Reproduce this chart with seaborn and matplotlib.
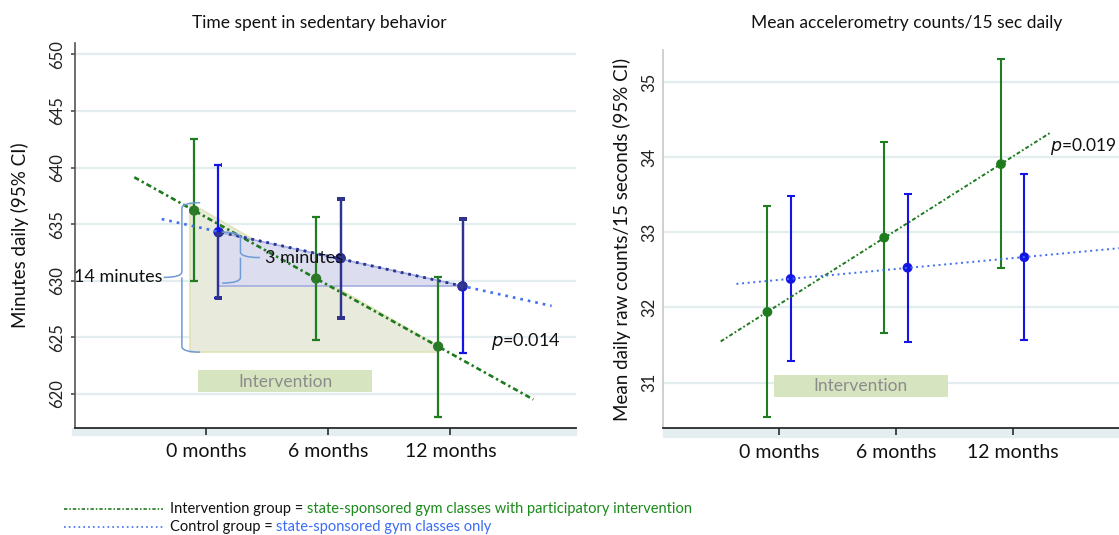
import numpy as np
import pandas as pd
import matplotlib
matplotlib.use('Agg')
import matplotlib.pyplot as plt
import seaborn as sns
from matplotlib.patches import Polygon, Rectangle, PathPatch
from matplotlib.path import Path
from matplotlib.lines import Line2D

# ---------------- data ----------------
months = ['0 months', '6 months', '12 months']
groups = ['Intervention', 'Control']

sed_int_mean = [636.2, 630.2, 624.2]
sed_int_low = [630.0, 624.8, 618.0]
sed_int_high = [642.5, 635.6, 630.3]
sed_ctl_mean = [634.3, 632.0, 629.5]
sed_ctl_low = [628.5, 626.7, 623.6]
sed_ctl_high = [640.2, 637.2, 635.5]

acc_int_mean = [31.94, 32.93, 33.91]
acc_int_low = [30.54, 31.66, 32.52]
acc_int_high = [33.35, 34.20, 35.31]
acc_ctl_mean = [32.38, 32.53, 32.67]
acc_ctl_low = [31.28, 31.54, 31.57]
acc_ctl_high = [33.48, 33.51, 33.78]

sed_yticks = [620, 625, 630, 635, 640, 645, 650]
acc_yticks = [31, 32, 33, 34, 35]
sed_p = '0.014'
acc_p = '0.019'
sed_int_diff_label = '14 minutes'
sed_ctl_diff_label = '3 minutes'
titles = ['Time spent in sedentary behavior', 'Mean accelerometry counts/15 sec daily']
ylabels = ['Minutes daily (95% CI)', 'Mean daily raw counts/15 seconds (95% CI)']

# ---------------- style ----------------
sns.set_theme(style='white')
plt.rcParams['font.family'] = ['Lato', 'DejaVu Sans']

W, H = 1119, 535
fig = plt.figure(figsize=(W / 100, H / 100), dpi=100)

GREEN = '#1f7d1f'
GREEN_MK = '#2f7a2a'
BLUE = '#1414e6'
NAVY = '#30338c'
GREEN_LINE = '#1e7a1e'
BLUE_LINE = '#3f6ff0'
GRID = '#e3edf0'
OFF = 0.1


def fx(px):
    return px / W


def fy(py):
    return 1 - py / H


def build(im, il, ih, cm, cl, ch):
    rows = []
    for g, m, lo, hi, off in [('Intervention', im, il, ih, -OFF), ('Control', cm, cl, ch, OFF)]:
        for i in range(len(months)):
            rows.append(dict(group=g, month=months[i], x=i + off, mean=m[i], low=lo[i], high=hi[i]))
    return pd.DataFrame(rows)


sed = build(sed_int_mean, sed_int_low, sed_int_high, sed_ctl_mean, sed_ctl_low, sed_ctl_high)
acc = build(acc_int_mean, acc_int_low, acc_int_high, acc_ctl_mean, acc_ctl_low, acc_ctl_high)


def make_axes(l, r, t, b):
    return fig.add_axes([fx(l), fy(b), fx(r - l), (b - t) / H])


axL = make_axes(75, 576, 43, 428)
axR = make_axes(663, 1150, 50, 428.3)


def style_axes(ax, yticks, ylim, xlim, spine_col, ytick_len):
    ax.set_xlim(*xlim)
    ax.set_ylim(*ylim)
    ax.set_yticks(yticks)
    ax.set_xticks(range(len(months)), months)
    ax.yaxis.grid(True, color=GRID, lw=1.6)
    ax.xaxis.grid(False)
    ax.set_axisbelow(True)
    for s in ['top', 'right']:
        ax.spines[s].set_visible(False)
    ax.spines['left'].set_color(spine_col)
    ax.spines['left'].set_linewidth(1.2)
    ax.spines['bottom'].set_color('#2a2a2a')
    ax.spines['bottom'].set_linewidth(1.3)
    ax.tick_params(axis='y', labelrotation=90, labelsize=12, length=ytick_len,
                   color='#555555', pad=4, labelcolor='#222222', left=ytick_len > 0)
    for lab in ax.get_yticklabels():
        lab.set_va('center')
    ax.tick_params(axis='x', labelsize=14, length=5, color='#333333', pad=6,
                   labelcolor='#111111', bottom=True)
    ax.set_xlabel('')


style_axes(axL, sed_yticks, (617.0, 651.0), (-1.076, 3.03), '#555555', 3)
style_axes(axR, acc_yticks, (30.39, 35.43), (-0.994, 3.176), '#c8c8c8', 0)

# bottom bands below the x axes
fig.add_artist(Rectangle((fx(72), fy(435)), fx(576 - 72), 7 / H, transform=fig.transFigure,
                         color='#e4eef0', zorder=0))
fig.add_artist(Rectangle((fx(663), fy(437)), fx(W - 663), 9 / H, transform=fig.transFigure,
                         color='#e4eef0', zorder=0))


def draw_data(ax, df, cols, mk_size, elw, cap, zbase=3):
    for g in groups:
        sub = df[df.group == g]
        ax.errorbar(sub['x'], sub['mean'],
                    yerr=[sub['mean'] - sub['low'], sub['high'] - sub['mean']],
                    fmt='none', ecolor=cols[g][0], elinewidth=elw, capsize=cap,
                    capthick=elw, zorder=zbase)
    sns.scatterplot(data=df, x='x', y='mean', hue='group', palette={g: cols[g][1] for g in groups},
                    s=mk_size, edgecolor='none', legend=False, ax=ax, zorder=zbase + 1)
    ax.set_xlabel('')
    ax.set_ylabel('')


def trend(ax, df, g, x0, x1, color, lw, ls, clip=None):
    sub = df[df.group == g]
    coef = np.polyfit(sub['x'], sub['mean'], 1)
    xs = np.array([x0, x1])
    before = set(ax.lines)
    sns.lineplot(x=xs, y=np.polyval(coef, xs), ax=ax, color=color, lw=lw, linestyle=ls, zorder=5)
    new = [l for l in ax.lines if l not in before]
    for l in new:
        l.set_dash_capstyle('butt')
        if clip is not None:
            l.set_clip_path(clip)
    ax.set_xlabel('')
    ax.set_ylabel('')


DASHDOT = (0, (2.0, 1.2, 0.9, 1.2))
DOT = (0, (1.0, 1.9))

# ---------------- left panel ----------------
ax = axL
xi = sed[sed.group == 'Intervention']['x'].to_numpy()
xc = sed[sed.group == 'Control']['x'].to_numpy()

# shaded triangles
tri_g = Polygon([(xi[0] - 0.03, sed_int_mean[0] + 0.7), (xi[0] - 0.03, sed_int_mean[2] - 0.5),
                 (xi[2], sed_int_mean[2] - 0.5), (xi[2], sed_int_mean[2])],
                closed=True, facecolor='#e8eadc', edgecolor='#dfe4b8', lw=1.2, zorder=1)
ax.add_patch(tri_g)
tri_b = Polygon([(xc[0], sed_ctl_mean[0]), (xc[0], sed_ctl_mean[2]), (xc[2], sed_ctl_mean[2])],
                closed=True, facecolor='#dcdef0', edgecolor='#a3aedf', lw=1.2, zorder=1.5)
ax.add_patch(tri_b)

# intervention box
ax.add_patch(Rectangle((-0.068, 620.15), 1.43, 1.95, facecolor='#d7e4c0', edgecolor='none', zorder=2))
ax.text(-0.068 + 1.43 / 2, 621.1, 'Intervention', ha='center', va='center', fontsize=12.5,
        color='#8c8c8c', zorder=3)

cols_left = {'Intervention': (GREEN, GREEN_MK), 'Control': (BLUE, BLUE)}
draw_data(ax, sed, cols_left, 55, 1.6, 2.6)
trend(ax, sed, 'Intervention', -0.59, 2.68, GREEN_LINE, 1.9, DASHDOT)
trend(ax, sed, 'Control', -0.365, 2.83, BLUE_LINE, 1.9, DOT)

# darker region where the control elements sit inside the shaded area
navy_clip = Polygon([(xc[0] + 0.02, sed_ctl_mean[0]), (xc[0] - 0.03, sed_ctl_mean[0]),
                     (xc[0] - 0.03, 617.0), (xc[2] + 0.04, sed_ctl_mean[2] - 0.1),
                     (xc[2] + 0.04, 651.0), (xc[0] + 0.02, 651.0)],
                    closed=True, transform=ax.transData, visible=False)
ax.add_patch(navy_clip)
sub = sed[sed.group == 'Control']
cont = ax.errorbar(sub['x'], sub['mean'], yerr=[sub['mean'] - sub['low'], sub['high'] - sub['mean']],
                   fmt='none', ecolor=NAVY, elinewidth=1.6, capsize=2.6, capthick=1.6, zorder=3.2)
for a in cont.get_children():
    a.set_clip_path(navy_clip)
pts = ax.scatter(sub['x'], sub['mean'], s=55, color=NAVY, edgecolor='none', zorder=4.2)
pts.set_clip_path(navy_clip)
trend(ax, sed, 'Control', -0.365, 2.83, NAVY, 1.9, DOT, clip=navy_clip)


# braces
def brace(ax, xv, y_top, y_bot, x_end, x_tip, color, ry):
    ym = (y_top + y_bot) / 2
    verts = [(x_end, y_top), (xv, y_top), (xv, y_top - ry),
             (xv, ym + ry), (xv, ym), (x_tip, ym),
             (xv, ym), (xv, ym - ry),
             (xv, y_bot + ry), (xv, y_bot), (x_end, y_bot)]
    codes = [Path.MOVETO, Path.CURVE3, Path.CURVE3,
             Path.LINETO, Path.CURVE3, Path.CURVE3,
             Path.MOVETO, Path.LINETO,
             Path.LINETO, Path.CURVE3, Path.CURVE3]
    ax.add_patch(PathPatch(Path(verts, codes), facecolor='none', edgecolor=color, lw=1.1, zorder=6))
    return ym


ym1 = brace(ax, -0.2, sed_int_mean[0] + 0.7, sed_int_mean[2] - 0.5, -0.05, -0.35, '#6f9bd6', 0.5)
ax.text(-0.36, ym1, sed_int_diff_label, ha='right', va='center', fontsize=13, color='#111111', zorder=7)
ym2 = brace(ax, 0.28, sed_ctl_mean[0], sed_ctl_mean[2] + 0.3, 0.13, 0.44, '#6f9bd6', 0.5)
ax.text(0.48, ym2, sed_ctl_diff_label, ha='left', va='center', fontsize=13, color='#111111', zorder=7)

ax.text(2.33, 624.6, r'$p$=' + sed_p, ha='left', va='center', fontsize=13, color='#111111')

# ---------------- right panel ----------------
ax = axR
ax.add_patch(Rectangle((-0.047, 30.81), 1.49, 0.29, facecolor='#d7e4c0', edgecolor='none', zorder=2))
ax.text(-0.047 + 1.49 / 2, 30.955, 'Intervention', ha='center', va='center', fontsize=12.5,
        color='#8c8c8c', zorder=3)
cols_right = {'Intervention': (GREEN, GREEN), 'Control': (BLUE, BLUE)}
draw_data(ax, acc, cols_right, 50, 1.5, 2.6)
trend(ax, acc, 'Intervention', -0.5, 2.32, GREEN_LINE, 1.4, DASHDOT)
trend(ax, acc, 'Control', -0.365, 3.2, BLUE_LINE, 1.4, DOT)
ax.text(2.32, 34.15, r'$p$=' + acc_p, ha='left', va='center', fontsize=12.5, color='#111111',
        clip_on=False)

# axis labels
axL.set_ylabel(ylabels[0], fontsize=13.5, color='#111111')
axL.yaxis.set_label_coords((29 - 75) / (576 - 75), 0.5)
axR.set_ylabel(ylabels[1], fontsize=13.5, color='#111111')
axR.yaxis.set_label_coords((631 - 663) / (1150 - 663), 0.5)

# titles
fig.text(fx(319), fy(23), titles[0], ha='center', va='center', fontsize=12.5, color='#111111')
fig.text(fx(907), fy(23), titles[1], ha='center', va='center', fontsize=12.5, color='#111111')

# ---------------- legend ----------------
fig.add_artist(Line2D([fx(64), fx(163)], [fy(509), fy(509)], transform=fig.transFigure,
                      color=GREEN_LINE, lw=1.2, linestyle=DASHDOT))
fig.add_artist(Line2D([fx(64), fx(163)], [fy(527), fy(527)], transform=fig.transFigure,
                      color=BLUE_LINE, lw=1.2, linestyle=DOT))

legend_rows = [
    ('Intervention group = ', 'state-sponsored gym classes with participatory intervention', '#1a8a1a', 509),
    ('Control group = ', 'state-sponsored gym classes only', '#3a6cf4', 527),
]
for black, colored, ccol, ypx in legend_rows:
    t1 = fig.text(fx(170), fy(ypx), black, ha='left', va='center', fontsize=10.5, color='#111111')
    axL.annotate(colored, xy=(1, 0), xycoords=t1, ha='left', va='bottom', fontsize=10.5,
                 color=ccol, annotation_clip=False)

fig.savefig('out.png', dpi=100)
